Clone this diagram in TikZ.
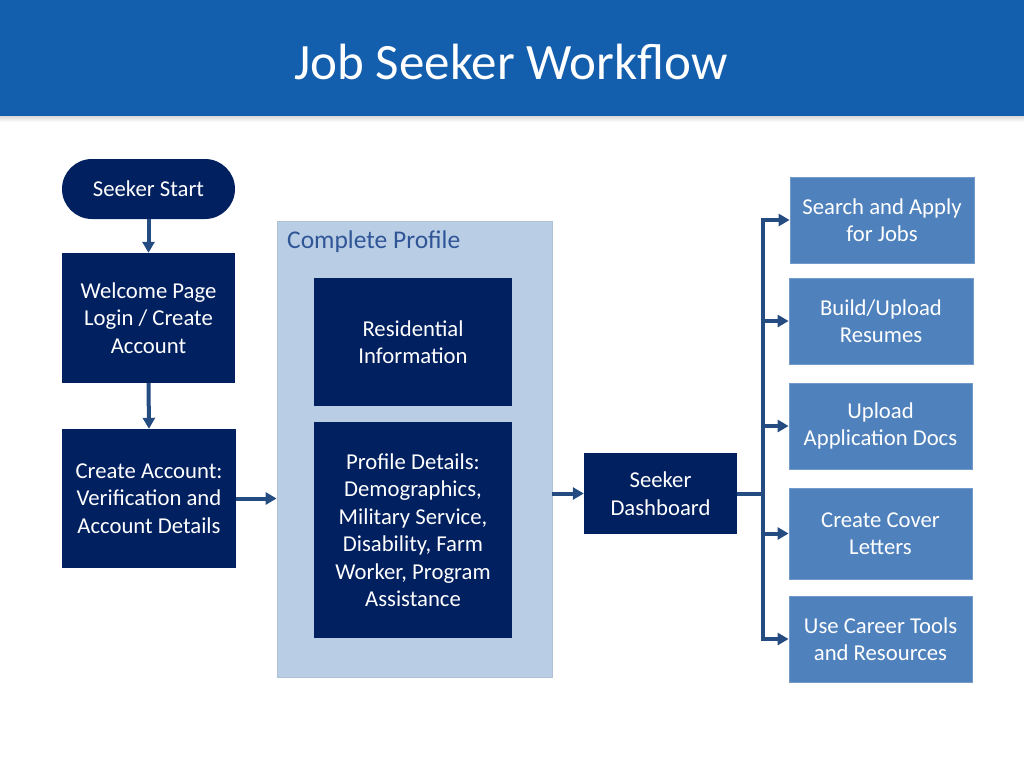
\documentclass[tikz,border=0pt]{standalone}
\usepackage{fontspec}
\setmainfont{Carlito}
\usetikzlibrary{arrows.meta}
\definecolor{hdr}{RGB}{20,94,174}
\definecolor{navy}{RGB}{0,32,96}
\definecolor{midblue}{RGB}{79,129,189}
\definecolor{lightblue}{RGB}{185,205,229}
\definecolor{arr}{RGB}{37,76,128}
\definecolor{lbltxt}{RGB}{47,85,151}
\tikzset{
  dark/.style={fill=navy, text=white, align=center, font=\fontsize{22.7}{27.5}\selectfont, inner sep=0pt},
  light/.style={fill=midblue, draw=midblue!80!white, line width=0.8pt, text=white, align=center, font=\fontsize{22.7}{27.5}\selectfont, inner sep=0pt},
  conn/.style={draw=arr, line width=4pt, -{Triangle[length=11pt,width=12pt]}},
  trunk/.style={draw=arr, line width=4pt},
}
\begin{document}
\begin{tikzpicture}[x=1pt,y=-1pt]
\useasboundingbox (0,0) rectangle (1024,768);
% header
\shade[top color=gray!45, bottom color=white] (0,113) rectangle (1024,122);
\fill[hdr] (0,0) rectangle (1024,116);
\node[text=white, font=\fontsize{51}{56}\selectfont] (title) at (511,62) {Job Seeker Workflow};
% container
\node[fill=lightblue, draw=lightblue!85!gray, line width=0.8pt, minimum width=275pt, minimum height=456pt, inner sep=0pt] (cont) at (414.5,449) {};
\node[anchor=west, text=lbltxt, font=\fontsize{25.5}{30}\selectfont, inner sep=0pt] (contlbl) at (287,242) {Complete Profile};
% left column
\node[dark, minimum width=173pt, minimum height=60pt, rounded corners=30pt] (start) at (148.5,189) {Seeker Start};
\node[dark, minimum width=173pt, minimum height=130pt] (welcome) at (148.5,318) {Welcome Page\\Login / Create\\Account};
\node[dark, minimum width=174pt, minimum height=139pt] (create) at (149,498.5) {Create Account:\\Verification and\\Account Details};
% profile
\node[dark, minimum width=198pt, minimum height=128pt] (resi) at (413,342) {Residential\\Information};
\node[dark, minimum width=198pt, minimum height=216pt] (prof) at (413,530) {Profile Details:\\Demographics,\\Military Service,\\Disability, Farm\\Worker, Program\\Assistance};
% dashboard
\node[dark, minimum width=153pt, minimum height=81pt] (dash) at (660.5,493.5) {Seeker\\Dashboard};
% right column
\node[light, minimum width=184pt, minimum height=86pt] (search) at (882,220) {Search and Apply\\for Jobs};
\node[light, minimum width=184pt, minimum height=86pt] (build) at (881,321) {Build/Upload\\Resumes};
\node[light, minimum width=183pt, minimum height=86pt] (upload) at (880.5,426) {Upload\\Application Docs};
\node[light, minimum width=183pt, minimum height=91pt] (cover) at (880.5,533.5) {Create Cover\\Letters};
\node[light, minimum width=183pt, minimum height=86pt] (career) at (880.5,639) {Use Career Tools\\and Resources};
% connectors
\draw[conn] (start.south) -- (welcome.north);
\draw[conn] (welcome.south) -- (create.north);
\draw[conn] (create.east) -- (create.east -| cont.west);
\draw[conn] (cont.east |- dash.west) -- (dash.west);
\coordinate (hub) at (763,493.5);
\coordinate (ttop) at (763,220);
\coordinate (tbot) at (763,639);
\draw[trunk] (dash.east) -- (hub);
\draw[trunk, line cap=rect] (ttop) -- (tbot);
\draw[conn] (ttop) -- (search.west);
\draw[conn] (ttop |- build.west) -- (build.west);
\draw[conn] (ttop |- upload.west) -- (upload.west);
\draw[conn] (ttop |- cover.west) -- (cover.west);
\draw[conn] (tbot) -- (career.west);
\end{tikzpicture}
\end{document}
